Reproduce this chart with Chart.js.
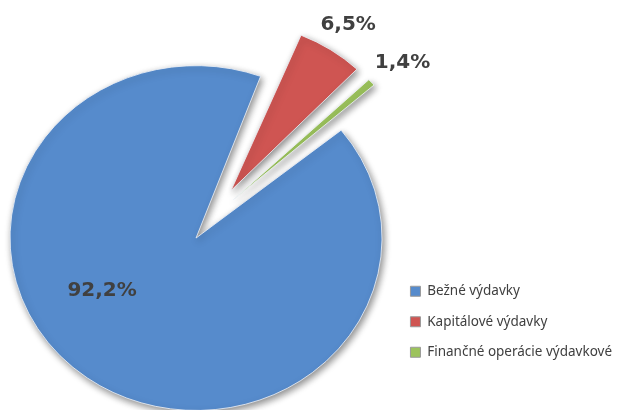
<!DOCTYPE html>
<html>
<head>
<meta charset="utf-8">
<script src="https://cdn.jsdelivr.net/npm/chart.js@4"></script>
<style>
  html, body { margin: 0; padding: 0; background: #fff; }
  #wrap { width: 622px; height: 410px; position: relative; }
</style>
</head>
<body>
<div id="wrap"><canvas id="myChart"></canvas></div>
<script>
// data
const categories = ['Bežné výdavky', 'Kapitálové výdavky', 'Finančné operácie výdavkové'];
const shares = [92.2, 6.5, 1.4];
const pieColors = ['#568bcc', '#cf5552', '#9cc35c'];
// explode distance of each slice (Chart.js moves a slice by offset / 4)
const explode = [104, 144, 120];
// where each percent label sits: angle nudge from the slice middle (deg), distance as part of radius
const labelNudge = [18.5, 0, 1.3];
const labelDist = [0.84, 1.56, 1.59];

const squash = 0.927; // slight 3D tilt of the pie

const tiltPlugin = {
	id: 'tilt',
	beforeDatasetsDraw(chart) {
		const arc = chart.getDatasetMeta(0).data[0];
		const ctx = chart.ctx;
		ctx.save();
		ctx.translate(arc.x, arc.y);
		ctx.scale(1, squash);
		ctx.translate(-arc.x, -arc.y);
		ctx.shadowColor = 'rgba(0,0,0,0.45)';
		ctx.shadowBlur = 7;
		ctx.shadowOffsetX = 2;
		ctx.shadowOffsetY = 3;
	},
	afterDatasetsDraw(chart) {
		chart.ctx.restore();
	}
};

const percentLabels = {
	id: 'percentLabels',
	afterDatasetsDraw(chart) {
		const ctx = chart.ctx;
		const arcs = chart.getDatasetMeta(0).data;
		ctx.save();
		ctx.font = 'bold 20px "DejaVu Sans"';
		ctx.fillStyle = '#404040';
		ctx.textAlign = 'center';
		ctx.textBaseline = 'middle';
		arcs.forEach((arc, i) => {
			let mid = (arc.startAngle + arc.endAngle) / 2 + labelNudge[i] * Math.PI / 180;
			let d = arc.outerRadius * labelDist[i];
			let x = arc.x + Math.cos(mid) * d;
			let y = arc.y + Math.sin(mid) * d * squash;
			ctx.fillText(shares[i].toFixed(1).replace('.', ',') + '%', x, y);
		});
		ctx.restore();
	}
};

const ctx1 = document.querySelector('#myChart');

new Chart(ctx1, {
	type: 'pie',
	data: {
		labels: categories,
		datasets: [{
			data: shares,
			backgroundColor: pieColors,
			borderColor: 'rgba(238,242,248,0.85)',
			borderWidth: 1,
			offset: explode
		}]
	},
	options: {
		responsive: true,
		maintainAspectRatio: false,
		animation: false,
		rotation: 50,
		radius: 160,
		layout: {
			padding: { left: 29, top: 61, bottom: 34, right: 0 }
		},
		plugins: {
			tooltip: { enabled: false },
			legend: {
				position: 'right',
				align: 'end',
				labels: {
					boxWidth: 10,
					boxHeight: 10,
					padding: 17,
					color: '#404040',
					font: { family: '"Noto Sans"', size: 13.5 },
					generateLabels(chart) {
						const items = Chart.overrides.pie.plugins.legend.labels.generateLabels(chart);
						items.forEach(it => { it.strokeStyle = '#9a9a9a'; it.lineWidth = 1; });
						return items;
					}
				}
			}
		}
	},
	plugins: [tiltPlugin, percentLabels]
});
</script>
</body>
</html>
